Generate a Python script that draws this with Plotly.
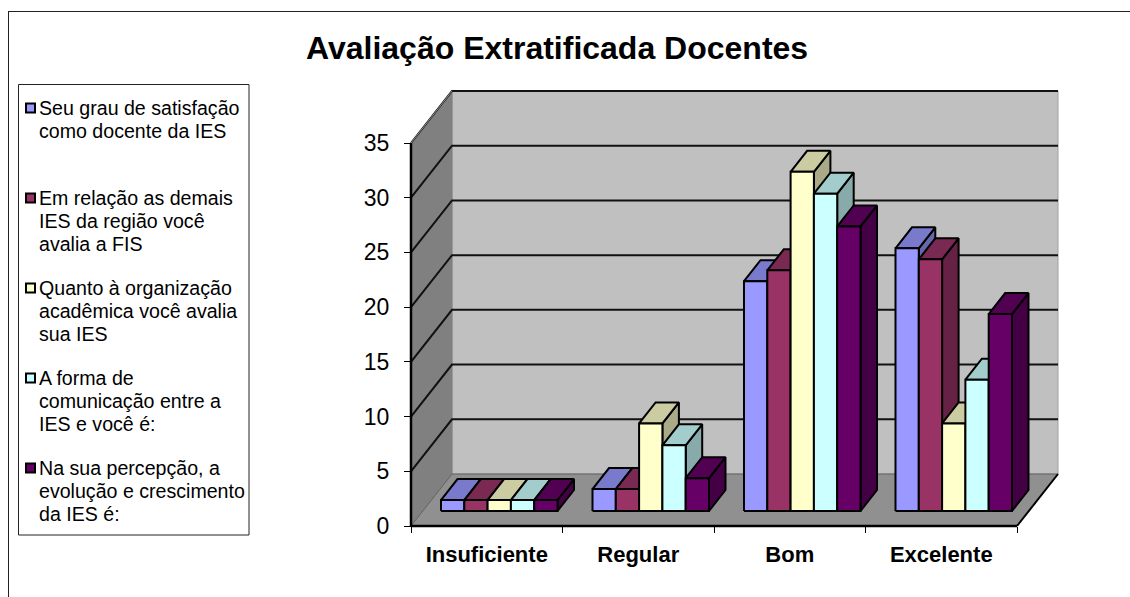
"""Avaliacao Extratificada Docentes - barras 3D estilo Excel, desenhadas em eixos 2D."""

import plotly.graph_objects as go

WIDTH, HEIGHT = 1130, 597
FONT = "Liberation Sans, Arial, sans-serif"

categorias = ["Insuficiente", "Regular", "Bom", "Excelente"]
y_ticks = [0, 5, 10, 15, 20, 25, 30, 35]

satisfacao = [1, 2, 21, 24]
demais_ies = [1, 2, 22, 23]
organizacao = [1, 8, 31, 8]
comunicacao = [1, 6, 29, 12]
evolucao = [1, 3, 26, 18]

serie_valores = [satisfacao, demais_ies, organizacao, comunicacao, evolucao]

# (frente, topo, lateral)
serie_cores = [
    ("#9999FF", "#7A7ACC", "#6666AA"),
    ("#993366", "#7A2952", "#662244"),
    ("#FFFFCC", "#CCCCA3", "#AAAA88"),
    ("#CCFFFF", "#A3CCCC", "#88AAAA"),
    ("#660066", "#520052", "#440044"),
]

legenda = [
    ["Seu grau de satisfação", "como docente da IES"],
    ["Em relação as demais", "IES da região você", "avalia a FIS"],
    ["Quanto à organização", "acadêmica você avalia", "sua IES"],
    ["A forma de", "comunicação entre a", "IES e você é:"],
    ["Na sua percepção, a", "evolução e crescimento", "da IES é:"],
]
legenda_y = [108, 198, 288, 378, 468]

# plano frontal em pixels: x 411..1017, y 526..143
X0, X1, Y0, Y35 = 411, 1017, 526, 143
PX_X = (X1 - X0) / 4
PX_Y = (Y0 - Y35) / 35

# profundidade da parede e das barras, em unidades dos eixos
WALL_DX, WALL_DY = 41 / PX_X, 52 / PX_Y
BAR_SHIFT_X, BAR_SHIFT_Y = 12.5 / PX_X, 15 / PX_Y
BAR_DX, BAR_DY = 16.5 / PX_X, 21 / PX_Y
BAR_W = 23.3 / PX_X
GAP = 17.5 / PX_X

# folga para as linhas nas bordas nao serem cortadas
PAD = 6


def fx(px):
    return px / WIDTH


def fy(px):
    return 1 - px / HEIGHT


def poly(fig, xs, ys, fill, line="#000000", width=2):
    fig.add_trace(go.Scatter(
        x=xs + xs[:1], y=ys + ys[:1],
        mode="lines", fill="toself", fillcolor=fill,
        line=dict(color=line, width=width),
        hoverinfo="skip", showlegend=False,
    ))


def line(fig, xs, ys, color="#000000", width=2):
    fig.add_trace(go.Scatter(
        x=xs, y=ys, mode="lines",
        line=dict(color=color, width=width),
        hoverinfo="skip", showlegend=False,
    ))


fig = go.Figure()

# paredes e piso
poly(fig, [WALL_DX, 4 + WALL_DX, 4 + WALL_DX, WALL_DX],
     [WALL_DY, WALL_DY, 35 + WALL_DY, 35 + WALL_DY], "#C0C0C0", "#A0A0A0", 1)
poly(fig, [0, WALL_DX, WALL_DX, 0], [0, WALL_DY, 35 + WALL_DY, 35], "#808080", "#808080", 1)
poly(fig, [0, 4, 4 + WALL_DX, WALL_DX], [0, 0, WALL_DY, WALL_DY], "#909090", "#606060", 1)

for v in y_ticks[1:]:
    line(fig, [0, WALL_DX, 4 + WALL_DX], [v, v + WALL_DY, v + WALL_DY], color="#111111", width=2)
line(fig, [0, WALL_DX], [35, 35 + WALL_DY], color="#909090", width=1)

# barras: esquerda para direita, cada uma cobre a lateral da anterior
for c in range(len(categorias)):
    for s, valores in enumerate(serie_valores):
        v = valores[c]
        frente, topo, lateral = serie_cores[s]
        x0 = c + GAP + BAR_SHIFT_X + s * BAR_W
        x1 = x0 + BAR_W
        y0 = BAR_SHIFT_Y
        y1 = BAR_SHIFT_Y + v
        poly(fig, [x1, x1 + BAR_DX, x1 + BAR_DX, x1],
             [y0, y0 + BAR_DY, y1 + BAR_DY, y1], lateral)
        poly(fig, [x0, x1, x1 + BAR_DX, x0 + BAR_DX],
             [y1, y1, y1 + BAR_DY, y1 + BAR_DY], topo)
        poly(fig, [x0, x1, x1, x0], [y0, y0, y1, y1], frente)

# linhas dos eixos e diagonal do piso
line(fig, [0, 0], [0, 35], width=2.5)
line(fig, [0, 4], [0, 0], width=2.5)
line(fig, [4, 4 + WALL_DX], [0, WALL_DY], width=2)

fig.update_xaxes(
    domain=[fx(X0 - PAD), fx(X1 + 41 + PAD)],
    range=[-PAD / PX_X, 4 + WALL_DX + PAD / PX_X],
    anchor="free", position=fy(Y0),
    tickmode="array", tickvals=[i + 0.5 for i in range(4)],
    ticktext=[f"<b>{c}</b>" for c in categorias],
    ticks="outside", ticklen=9, tickcolor="rgba(0,0,0,0)",
    tickfont=dict(family=FONT, size=22, color="#000000"),
    minor=dict(tickmode="array", tickvals=list(range(5)), ticks="outside",
               ticklen=6, tickcolor="#000000", tickwidth=1),
    showline=False, showgrid=False, zeroline=False,
)
fig.update_yaxes(
    domain=[fy(Y0 + PAD), fy(Y35 - 52 - PAD)],
    range=[-PAD / PX_Y, 35 + WALL_DY + PAD / PX_Y],
    anchor="free", position=fx(X0),
    tickmode="array", tickvals=y_ticks,
    ticks="outside", ticklen=7, tickcolor="#000000", tickwidth=1,
    ticklabelstandoff=10,
    tickfont=dict(family=FONT, size=23, color="#000000"),
    showline=False, showgrid=False, zeroline=False,
)

moldura = dict(color="#222222", width=1)
shapes = [
    # moldura do grafico
    dict(type="line", xref="paper", yref="paper", x0=fx(8.5), x1=fx(8.5), y0=fy(11), y1=0, line=moldura),
    dict(type="line", xref="paper", yref="paper", x0=fx(8.5), x1=1, y0=fy(11.5), y1=fy(11.5), line=moldura),
    # caixa da legenda
    dict(type="rect", xref="paper", yref="paper", x0=fx(18.5), x1=fx(249), y0=fy(84.5), y1=fy(535),
         line=moldura, fillcolor="#FFFFFF"),
]
annotations = [dict(
    text="<b>Avaliação Extratificada Docentes</b>", xref="paper", yref="paper",
    x=fx(557), y=fy(48), xanchor="center", yanchor="middle", showarrow=False,
    font=dict(family=FONT, size=32, color="#000000"),
)]
for linhas, y, cores in zip(legenda, legenda_y, serie_cores):
    shapes.append(dict(type="rect", xref="paper", yref="paper",
                       x0=fx(26), x1=fx(35), y0=fy(y - 4.5), y1=fy(y + 4.5),
                       line=dict(color="#000000", width=2), fillcolor=cores[0]))
    for i, texto in enumerate(linhas):
        annotations.append(dict(
            text=texto, xref="paper", yref="paper",
            x=fx(39), y=fy(y + i * 22.8), xanchor="left", yanchor="middle",
            showarrow=False, xshift=-2,
            font=dict(family=FONT, size=19.6, color="#000000"),
        ))

fig.update_layout(
    width=WIDTH, height=HEIGHT,
    margin=dict(l=0, r=0, t=0, b=0, autoexpand=False),
    paper_bgcolor="#FFFFFF", plot_bgcolor="rgba(0,0,0,0)",
    showlegend=False, shapes=shapes, annotations=annotations,
)

fig.write_html("out.html", config={"displayModeBar": False},
               post_script="document.body.style.margin='0';")
